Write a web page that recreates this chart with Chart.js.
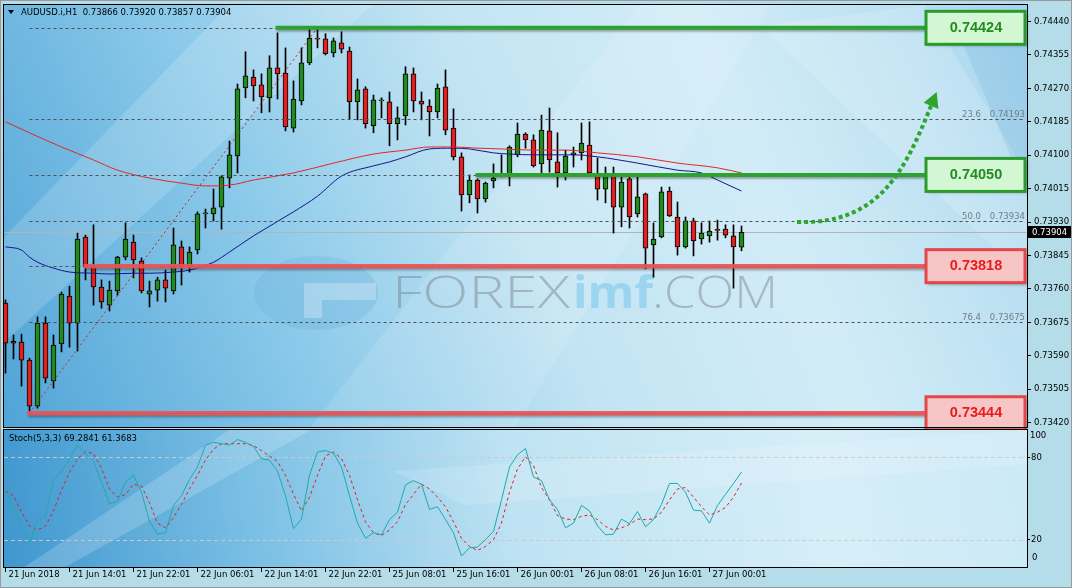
<!DOCTYPE html>
<html><head><meta charset="utf-8">
<script src="https://cdn.jsdelivr.net/npm/chart.js@4.4.1/dist/chart.umd.min.js"></script>
<style>
html,body{margin:0;padding:0;}
body{width:1072px;height:588px;background:#b5dce9;position:relative;overflow:hidden;}
canvas{position:absolute;left:0;}
#c1{top:0;}
#c2{top:429px;}
#frame{position:absolute;left:0;top:0;width:1070px;height:586px;border:1px solid #9a9a9a;pointer-events:none;}
</style></head><body>
<canvas id="c1" width="1072" height="429"></canvas>
<canvas id="c2" width="1072" height="159"></canvas>
<div id="frame"></div>
<script>
// ---------------- DATA ----------------
const symbol = 'AUDUSD.i,H1';
const opens  = [0.73724,0.73627,0.73625,0.73579,0.73462,0.73673,0.73526,0.73620,0.73742,0.73673,
                0.73892,0.73816,0.73765,0.73719,0.73755,0.73841,0.73879,0.73831,0.73747,0.73757,
                0.73783,0.73755,0.73867,0.73816,0.73859,0.73951,0.73951,0.73968,0.74042,0.74098,
                0.74271,0.74299,0.74279,0.74246,0.74322,0.74309,0.74169,0.74238,0.74335,0.74398,
                0.74396,0.74360,0.74386,0.74365,0.74236,0.74269,0.74175,0.74238,0.74236,0.74180,
                0.74200,0.74307,0.74238,0.74225,0.74210,0.74274,0.74169,0.74096,0.73999,0.74037,
                0.73989,0.74035,0.74047,0.74047,0.74101,0.74154,0.74139,0.74078,0.74162,0.74083,
                0.74055,0.74101,0.74106,0.74126,0.74047,0.74014,0.74047,0.73968,0.74040,0.73951,
                0.74002,0.73872,0.73892,0.74009,0.73943,0.73867,0.73933,0.73887,0.73895,0.73910,
                0.73912,0.73895,0.73866];
const highs  = [0.73732,0.73643,0.73645,0.73584,0.73689,0.73689,0.73643,0.73752,0.73767,0.73902,
                0.73897,0.73923,0.73783,0.73780,0.73843,0.73928,0.73897,0.73839,0.73780,0.73790,
                0.73808,0.73915,0.73882,0.73867,0.73956,0.73963,0.74014,0.74048,0.74136,0.74281,
                0.74363,0.74317,0.74307,0.74353,0.74411,0.74373,0.74289,0.74373,0.74420,0.74424,
                0.74409,0.74398,0.74414,0.74375,0.74294,0.74274,0.74253,0.74246,0.74261,0.74223,
                0.74325,0.74322,0.74261,0.74241,0.74281,0.74317,0.74218,0.74106,0.74050,0.74040,
                0.74032,0.74078,0.74101,0.74124,0.74182,0.74157,0.74152,0.74202,0.74220,0.74157,
                0.74113,0.74121,0.74182,0.74185,0.74093,0.74070,0.74070,0.74045,0.74045,0.74045,
                0.74004,0.73928,0.74019,0.74019,0.73981,0.73943,0.73940,0.73928,0.73933,0.73935,
                0.73923,0.73923,0.73920];
const lows   = [0.73546,0.73582,0.73513,0.73444,0.73457,0.73521,0.73508,0.73600,0.73612,0.73602,
                0.73783,0.73719,0.73711,0.73704,0.73744,0.73834,0.73788,0.73750,0.73714,0.73729,
                0.73727,0.73747,0.73770,0.73803,0.73849,0.73915,0.73933,0.73912,0.74017,0.74055,
                0.74246,0.74238,0.74208,0.74210,0.74243,0.74162,0.74159,0.74228,0.74330,0.74373,
                0.74355,0.74350,0.74360,0.74192,0.74190,0.74169,0.74157,0.74195,0.74124,0.74139,
                0.74177,0.74210,0.74190,0.74149,0.74195,0.74152,0.74088,0.73958,0.73979,0.73953,
                0.73981,0.74017,0.74045,0.74022,0.74096,0.74118,0.74070,0.74052,0.74057,0.74019,
                0.74037,0.74070,0.74088,0.74053,0.73986,0.73979,0.73902,0.73918,0.73915,0.73943,
                0.73811,0.73790,0.73890,0.73944,0.73846,0.73864,0.73844,0.73874,0.73879,0.73884,
                0.73890,0.73762,0.73857];
const closes = [0.73622,0.73622,0.73579,0.73462,0.73673,0.73533,0.73617,0.73747,0.73673,0.73887,
                0.73816,0.73765,0.73727,0.73757,0.73841,0.73887,0.73834,0.73755,0.73755,0.73783,
                0.73762,0.73872,0.73816,0.73854,0.73951,0.73953,0.73966,0.74045,0.74101,0.74269,
                0.74302,0.74276,0.74248,0.74322,0.74307,0.74172,0.74243,0.74335,0.74398,0.74395,
                0.74358,0.74391,0.74370,0.74236,0.74266,0.74180,0.74241,0.74241,0.74180,0.74195,
                0.74307,0.74238,0.74230,0.74210,0.74271,0.74164,0.74096,0.73999,0.74037,0.73989,
                0.74029,0.74042,0.74048,0.74121,0.74154,0.74139,0.74073,0.74164,0.74088,0.74055,
                0.74098,0.74106,0.74131,0.74055,0.74014,0.74047,0.73968,0.74032,0.73943,0.73994,
                0.73864,0.73887,0.74007,0.73946,0.73867,0.73933,0.73882,0.73902,0.73907,0.73909,
                0.73897,0.73867,0.73904];

// moving averages (at a subset of bars)
const maSlowIdx = [0,3,7,11,14,18,22,25,28,31,36,41,46,50,53,56,59,62,66,70,74,79,84,89,92];
const maSlowVal = [0.74185,0.74157,0.74121,0.74088,0.74062,0.74042,0.74029,0.74022,0.74024,0.74037,
                   0.74055,0.74080,0.74103,0.74113,0.74121,0.74121,0.74118,0.74116,0.74113,0.74113,
                   0.74106,0.74096,0.74080,0.74068,0.74055];
const maFastIdx = [0,2,3,4,6,8,11,13,16,18,21,23,26,28,31,36,39,42,46,48,50,53,56,58,61,63,66,69,71,74,79,84,87,89,92];
const maFastVal = [0.73867,0.73859,0.73841,0.73828,0.73813,0.73803,0.73800,0.73798,0.73800,0.73800,
                   0.73803,0.73808,0.73828,0.73854,0.73895,0.73956,0.73996,0.74047,0.74073,0.74083,
                   0.74096,0.74116,0.74118,0.74116,0.74106,0.74103,0.74101,0.74101,0.74101,0.74096,
                   0.74080,0.74062,0.74055,0.74037,0.74009];

// stochastic
const stochName = 'Stoch(5,3,3)';
const stochK = [56,43,30,17.5,34,37.5,64,70,79,89,83,77,62,46,48,62,67,54.6,33,24,
                25,45,52,64,73,89,91,90,89,93,91,88,79,78,70,52,28,35,67,84,
                85,83,73,52,32,21,25,23.5,34.6,40,60,63,60.5,42,44,34.6,25,8,14,14.6,
                20,26,49,73,82,86.5,65.7,63,49,42,28.6,32,45,41,30,23.5,24,35,31.6,40.5,
                29.4,34.6,45.7,61,61,54.6,41.5,41,32,45,53,61,69.2841];
const stochD = [55.6,52,40,30,27,30,41,56,69,79,84,83,72,57,51,53,60.5,59,47,32,
                28.6,36,45.7,57,67,78,86,90,90,90,90,88.6,85,81,77,67,53,41,51,67,
                81,84,79,67,49,33,25,23,27,33,45.7,53,60.5,57,51,44,33,21,15,12,
                15,20,32,54.6,71.6,80.5,74,58,49,37.5,35,34.6,37,38,34.6,29.6,27,28.6,31,35,
                34.6,35,40,49,57,58,51,44,38,40,43.5,51,61.3683];
const stochLevels = [20, 80];

// axes
const priceTicks = [0.73420,0.73505,0.73590,0.73675,0.73760,0.73845,0.73930,0.74015,0.74100,0.74185,0.74270,0.74355,0.74440];
const dateTickIdx = [0,8,16,24,32,40,48,56,64,72,80,88];
const dateLabels = ['21 Jun 2018','21 Jun 14:01','21 Jun 22:01','22 Jun 06:01','22 Jun 14:01','22 Jun 22:01',
                    '25 Jun 08:01','25 Jun 16:01','26 Jun 00:01','26 Jun 08:01','26 Jun 16:01','27 Jun 00:01'];

// fibonacci retracement (anchored low bar 3 -> high bar 39)
const fibRatios = ['0.0','23.6','38.2','50.0','61.8','76.4','100.0'];
const fibPrices = [0.74424,0.74193,0.74050,0.73934,0.73818,0.73675,0.73444];
const fibAnchorIdx = [3, 39];
const fibAnchorPrice = [0.73444, 0.74424];

// marked levels
const levelPrices = [0.74424, 0.74050, 0.73818, 0.73444];
const levelStartIdx = [34, 59, 10, 3];
const levelKind = ['up','up','down','down'];

// forecast arrow (bezier in bar index / price)
const arrowIdx = [98.94, 109.31, 112.44, 115.69];
const arrowPrice = [0.739304, 0.739228, 0.740627, 0.742255];

const bidPrice = closes[closes.length - 1];

// ---------------- STYLE ----------------
const FONT = "'DejaVu Sans', sans-serif";
Chart.defaults.font.family = FONT;
Chart.defaults.font.size = 8.5;
Chart.defaults.color = '#000';
const FRAME = '#b5dce9';
const BULL = '#1e8c1e', BEAR = '#e32020';
const X_MIN = -0.1875, X_MAX = 127.6875;
const COL = {
  up:   {line:'#2ea22e', fill:'#d3f6d3', border:'#2a9a2a', text:'#238b23'},
  down: {line:'rgba(236,84,84,0.92)', fill:'#f7c5c5', border:'#e24848', text:'#e81c1c'}
};

const idx = opens.map((_, i) => i);
const bodyData = idx.map(i => ({x:i, y:[opens[i], closes[i]]}));
const wickData = idx.map(i => ({x:i, y:[lows[i], highs[i]]}));
const bodyColors = idx.map(i => closes[i] >= opens[i] ? BULL : BEAR);

function fillPlotBg(ctx, a, stops, beams) {
  const g = ctx.createLinearGradient(a.left, a.bottom, a.right, a.top);
  stops.forEach(s => g.addColorStop(s[0], s[1]));
  ctx.fillStyle = g;
  ctx.fillRect(a.left, a.top, a.right - a.left, a.bottom - a.top);
  ctx.save();
  ctx.beginPath(); ctx.rect(a.left, a.top, a.right - a.left, a.bottom - a.top); ctx.clip();
  beams.forEach(b => {
    ctx.fillStyle = b.c;
    ctx.beginPath();
    b.p.forEach((pt, k) => { const x = a.left + pt[0]*(a.right-a.left), y = a.top + pt[1]*(a.bottom-a.top); k ? ctx.lineTo(x,y) : ctx.moveTo(x,y); });
    ctx.closePath(); ctx.fill();
  });
  ctx.restore();
}

function stretchText(ctx, txt, x, y, w) {
  const m = ctx.measureText(txt).width;
  ctx.save(); ctx.translate(x, y); ctx.scale(w / m, 1); ctx.fillText(txt, 0, 0); ctx.restore();
}

const mainBg = {
  id:'mainBg',
  beforeDraw(chart){
    const {ctx, chartArea:a} = chart;
    ctx.save();
    ctx.fillStyle = FRAME; ctx.fillRect(0, 0, chart.width, chart.height);
    fillPlotBg(ctx, a,
      [[0,'#50a4d7'],[0.28,'#8ccaea'],[0.5,'#c2e4f3'],[0.72,'#d2ecf7'],[0.88,'#bde1f2'],[1,'#a2d4ee']],
      [
        {c:'rgba(255,255,255,0.16)', p:[[0,0.55],[0.22,0],[0.36,0],[0,0.8]]},
        {c:'rgba(255,255,255,0.12)', p:[[0.3,1],[0.62,0],[0.75,0],[0.5,1]]},
        {c:'rgba(255,255,255,0.16)', p:[[0.74,0.05],[0.9,0],[1,0.4],[1,0.65]]},
        {c:'rgba(40,120,190,0.10)', p:[[0.93,0.05],[1,0.02],[1,0.45]]}
      ]);
    ctx.restore();
  },
  beforeDatasetsDraw(chart){
    const {ctx, chartArea:a, scales:{x, y}} = chart;
    ctx.save();
    ctx.beginPath(); ctx.rect(a.left, a.top, a.right-a.left, a.bottom-a.top); ctx.clip();
    // watermark logo
    const cx = a.left;
    ctx.fillStyle = 'rgba(105,175,218,0.30)';
    ctx.beginPath(); ctx.ellipse(cx + 312, 293, 62, 37, 0, 0, 2*Math.PI); ctx.fill();
    ctx.fillStyle = 'rgba(225,242,250,0.35)';
    ctx.beginPath();
    ctx.moveTo(cx + 300, 283); ctx.lineTo(cx + 372, 283); ctx.lineTo(cx + 372, 300); ctx.lineTo(cx + 318, 300);
    ctx.lineTo(cx + 318, 318); ctx.lineTo(cx + 300, 318); ctx.closePath(); ctx.fill();
    // watermark text
    ctx.textBaseline = 'alphabetic'; ctx.textAlign = 'left';
    ctx.font = "300 45px 'Open Sans', sans-serif";
    ctx.fillStyle = 'rgba(118,124,130,0.45)';
    stretchText(ctx, 'FOREX', cx + 388, 308, 178);
    ctx.font = "bold 45px 'Open Sans', sans-serif";
    ctx.fillStyle = 'rgba(125,200,235,0.6)';
    stretchText(ctx, 'imf', cx + 569, 308, 80);
    ctx.font = "300 45px 'Open Sans', sans-serif";
    ctx.fillStyle = 'rgba(118,124,130,0.45)';
    stretchText(ctx, '.COM', cx + 648, 308, 126);
    // bid line
    const by = Math.round(y.getPixelForValue(bidPrice)) + 0.5;
    ctx.strokeStyle = '#b4b4b4'; ctx.lineWidth = 1;
    ctx.beginPath(); ctx.moveTo(a.left, by); ctx.lineTo(a.right, by); ctx.stroke();
    ctx.restore();
  },
  afterDatasetsDraw(chart){
    const {ctx, chartArea:a, scales:{x, y}} = chart;
    ctx.save();
    ctx.beginPath(); ctx.rect(a.left, a.top, a.right-a.left, a.bottom-a.top + 5); ctx.clip();
    // fib lines
    const fx0 = x.getPixelForValue(fibAnchorIdx[0]);
    ctx.lineWidth = 1; ctx.strokeStyle = '#4d5257'; ctx.setLineDash([3,3]);
    fibPrices.forEach(p => {
      const py = Math.round(y.getPixelForValue(p)) + 0.5;
      ctx.beginPath(); ctx.moveTo(fx0, py); ctx.lineTo(a.right - 2, py); ctx.stroke();
    });
    ctx.setLineDash([]);
    ctx.font = "8.5px " + FONT; ctx.fillStyle = '#6f7d88'; ctx.textAlign = 'right'; ctx.textBaseline = 'alphabetic';
    fibPrices.forEach((p, k) => {
      const py = y.getPixelForValue(p) - 2;
      ctx.fillText(fibRatios[k], a.right - 46, py);
      ctx.fillText(p.toFixed(5), a.right - 2, py);
    });
    // fib trend line
    ctx.strokeStyle = '#d02020'; ctx.setLineDash([2,3]); ctx.lineWidth = 1;
    ctx.beginPath();
    ctx.moveTo(x.getPixelForValue(fibAnchorIdx[0]), y.getPixelForValue(fibAnchorPrice[0]));
    ctx.lineTo(x.getPixelForValue(fibAnchorIdx[1]), y.getPixelForValue(fibAnchorPrice[1]));
    ctx.stroke(); ctx.setLineDash([]);
    // levels
    levelPrices.forEach((p, k) => {
      const c = COL[levelKind[k]];
      const py = y.getPixelForValue(p);
      ctx.save();
      ctx.shadowColor = 'rgba(0,0,0,0.3)'; ctx.shadowOffsetY = 2; ctx.shadowOffsetX = 1; ctx.shadowBlur = 2;
      ctx.strokeStyle = c.line; ctx.lineWidth = levelKind[k] === 'up' ? 4 : 4.5;
      ctx.beginPath(); ctx.moveTo(x.getPixelForValue(levelStartIdx[k]) - 2, py); ctx.lineTo(a.right - 60, py); ctx.stroke();
      ctx.restore();
    });
    ctx.restore();
    ctx.save();
    // boxes
    levelPrices.forEach((p, k) => {
      const c = COL[levelKind[k]];
      const py = y.getPixelForValue(p);
      const bx = a.right - 101, bw = 99, bh = 33, bt = py - bh/2;
      ctx.save();
      ctx.shadowColor = 'rgba(0,0,0,0.35)'; ctx.shadowOffsetX = 2; ctx.shadowOffsetY = 2; ctx.shadowBlur = 3;
      ctx.fillStyle = c.fill; ctx.fillRect(bx, bt, bw, bh);
      ctx.restore();
      ctx.strokeStyle = c.border; ctx.lineWidth = 3;
      ctx.strokeRect(bx, bt, bw, bh);
      ctx.font = "bold 14.5px 'Liberation Sans', Arial, sans-serif";
      ctx.fillStyle = c.text; ctx.textAlign = 'center'; ctx.textBaseline = 'middle';
      ctx.fillText(p.toFixed(5), bx + 50, py);
    });
    // arrow
    const P = arrowIdx.map((v, k) => [x.getPixelForValue(v), y.getPixelForValue(arrowPrice[k])]);
    ctx.strokeStyle = '#2ea52e'; ctx.lineWidth = 4; ctx.setLineDash([4,3]);
    ctx.beginPath(); ctx.moveTo(P[0][0], P[0][1]);
    ctx.bezierCurveTo(P[1][0], P[1][1], P[2][0], P[2][1], P[3][0], P[3][1]);
    ctx.stroke(); ctx.setLineDash([]);
    let dx = P[3][0] - P[2][0], dy = P[3][1] - P[2][1];
    const L = Math.hypot(dx, dy); dx /= L; dy /= L;
    const tip = [P[3][0] + dx*15, P[3][1] + dy*15];
    ctx.fillStyle = '#2ea52e';
    ctx.beginPath(); ctx.moveTo(tip[0], tip[1]);
    ctx.lineTo(P[3][0] - dy*8, P[3][1] + dx*8);
    ctx.lineTo(P[3][0] + dy*8, P[3][1] - dx*8);
    ctx.closePath(); ctx.fill();
    // header
    ctx.fillStyle = '#000';
    ctx.beginPath(); ctx.moveTo(8, 10); ctx.lineTo(14, 10); ctx.lineTo(11, 14); ctx.closePath(); ctx.fill();
    ctx.font = "8.5px " + FONT; ctx.textAlign = 'left'; ctx.textBaseline = 'middle';
    const n = opens.length - 1;
    ctx.fillText(symbol + '  ' + [opens[n], highs[n], lows[n], closes[n]].map(v => v.toFixed(5)).join(' '), 21, 12.5);
    // frame
    ctx.strokeStyle = '#000'; ctx.lineWidth = 1;
    ctx.strokeRect(a.left - 0.5, a.top - 0.5, a.right - a.left + 1, a.bottom - a.top + 1);
    // bid label on axis
    const by = Math.round(y.getPixelForValue(bidPrice));
    ctx.fillStyle = '#000'; ctx.fillRect(a.right + 1, by - 6, chart.width - a.right - 1, 12);
    ctx.fillStyle = '#fff'; ctx.textAlign = 'left';
    ctx.fillText(bidPrice.toFixed(5), a.right + 5, by + 0.5);
    ctx.restore();
  }
};

new Chart(document.getElementById('c1'), {
  type:'bar',
  data:{datasets:[
    {type:'line', data: maSlowIdx.map((v,k)=>({x:v, y:maSlowVal[k]})), borderColor:'#e02828', borderWidth:1, pointRadius:0, cubicInterpolationMode:'monotone', order:0},
    {type:'line', data: maFastIdx.map((v,k)=>({x:v, y:maFastVal[k]})), borderColor:'#14148c', borderWidth:1, pointRadius:0, cubicInterpolationMode:'monotone', order:0},
    {data: bodyData, backgroundColor: bodyColors, borderColor:'#000', borderWidth:1, borderSkipped:false, barThickness:5, grouped:false, minBarLength:1, order:1},
    {data: wickData, backgroundColor:'#000', borderWidth:0, barThickness:1, grouped:false, order:2}
  ]},
  options:{
    responsive:false, animation:false, devicePixelRatio:1,
    layout:{padding:{left:4, top:5, bottom:2, right:0}},
    plugins:{legend:{display:false}, tooltip:{enabled:false}},
    scales:{
      x:{type:'linear', min:X_MIN, max:X_MAX, display:false, offset:false},
      y:{position:'right', min:0.73409, max:0.74482,
         afterBuildTicks:s=>{ s.ticks = priceTicks.map(v=>({value:v})); },
         afterFit:s=>{ s.width = 45; s.paddingTop = 0; s.paddingBottom = 0; },
         ticks:{padding:3, color:'#000', font:{size:8.5}, callback:v=>Number(v).toFixed(5)},
         grid:{drawOnChartArea:false, drawTicks:true, tickLength:4, color:'#000'},
         border:{color:'#000', width:1}}
    }
  },
  plugins:[mainBg]
});

const stochBg = {
  id:'stochBg',
  beforeDraw(chart){
    const {ctx, chartArea:a} = chart;
    ctx.save();
    ctx.fillStyle = FRAME; ctx.fillRect(0, 0, chart.width, chart.height);
    fillPlotBg(ctx, a,
      [[0,'#3f97cf'],[0.25,'#7cc0e5'],[0.5,'#bfe3f3'],[0.8,'#d6eef8'],[1,'#cbe9f6']],
      [
        {c:'rgba(255,255,255,0.18)', p:[[0.02,1],[0.22,0],[0.3,0],[0.06,1]]},
        {c:'rgba(255,255,255,0.14)', p:[[0.38,0.3],[1,0],[1,0.25],[0.45,0.55]]}
      ]);
    ctx.restore();
  },
  beforeDatasetsDraw(chart){
    const {ctx, chartArea:a, scales:{y}} = chart;
    ctx.save();
    ctx.strokeStyle = 'rgba(205,200,200,0.95)'; ctx.lineWidth = 1; ctx.setLineDash([4,3]);
    stochLevels.forEach(v => {
      const py = Math.round(y.getPixelForValue(v)) + 0.5;
      ctx.beginPath(); ctx.moveTo(a.left, py); ctx.lineTo(a.right, py); ctx.stroke();
    });
    ctx.restore();
  },
  afterDraw(chart){
    const {ctx, chartArea:a} = chart;
    ctx.save();
    ctx.strokeStyle = '#000'; ctx.lineWidth = 1;
    ctx.strokeRect(a.left - 0.5, a.top - 0.5, a.right - a.left + 1, a.bottom - a.top + 1);
    ctx.fillStyle = '#000'; ctx.font = "8.5px " + FONT; ctx.textBaseline = 'middle'; ctx.textAlign = 'left';
    const n = stochK.length - 1;
    ctx.fillText(stochName + ' ' + stochK[n].toFixed(4) + ' ' + stochD[n].toFixed(4), 9, 9.5);
    ctx.fillText('100', a.right + 3, a.top + 6);
    ctx.fillText('0', a.right + 5, a.bottom - 9);
    ctx.restore();
  }
};

new Chart(document.getElementById('c2'), {
  type:'line',
  data:{datasets:[
    {data: stochK.map((v,i)=>({x:i, y:v})), borderColor:'#22aaa6', borderWidth:1, pointRadius:0, tension:0},
    {data: stochD.map((v,i)=>({x:i, y:v})), borderColor:'#e01e1e', borderWidth:1, borderDash:[3,3], pointRadius:0, tension:0}
  ]},
  options:{
    responsive:false, animation:false, devicePixelRatio:1,
    layout:{padding:{left:4, top:1, bottom:0, right:0}},
    plugins:{legend:{display:false}, tooltip:{enabled:false}},
    scales:{
      x:{type:'linear', min:X_MIN, max:X_MAX, offset:false,
         afterBuildTicks:s=>{ s.ticks = dateTickIdx.map(v=>({value:v})); },
         afterFit:s=>{ s.height = 21; s.paddingLeft = 0; s.paddingRight = 0; },
         ticks:{autoSkip:false, maxRotation:0, minRotation:0, align:'start', labelOffset:3, padding:-2, color:'#000', font:{size:8.5},
                callback:(v,k)=>dateLabels[k]},
         grid:{drawOnChartArea:false, drawTicks:true, tickLength:5, color:'#000'},
         border:{color:'#000', width:1}},
      y:{position:'right', min:0, max:100,
         afterBuildTicks:s=>{ s.ticks = stochLevels.map(v=>({value:v})); },
         afterFit:s=>{ s.width = 45; s.paddingTop = 0; s.paddingBottom = 0; },
         ticks:{padding:1, color:'#000', font:{size:8.5}},
         grid:{drawOnChartArea:false, drawTicks:true, tickLength:3, color:'#000'},
         border:{color:'#000', width:1}}
    }
  },
  plugins:[stochBg]
});
</script>
</body></html>
